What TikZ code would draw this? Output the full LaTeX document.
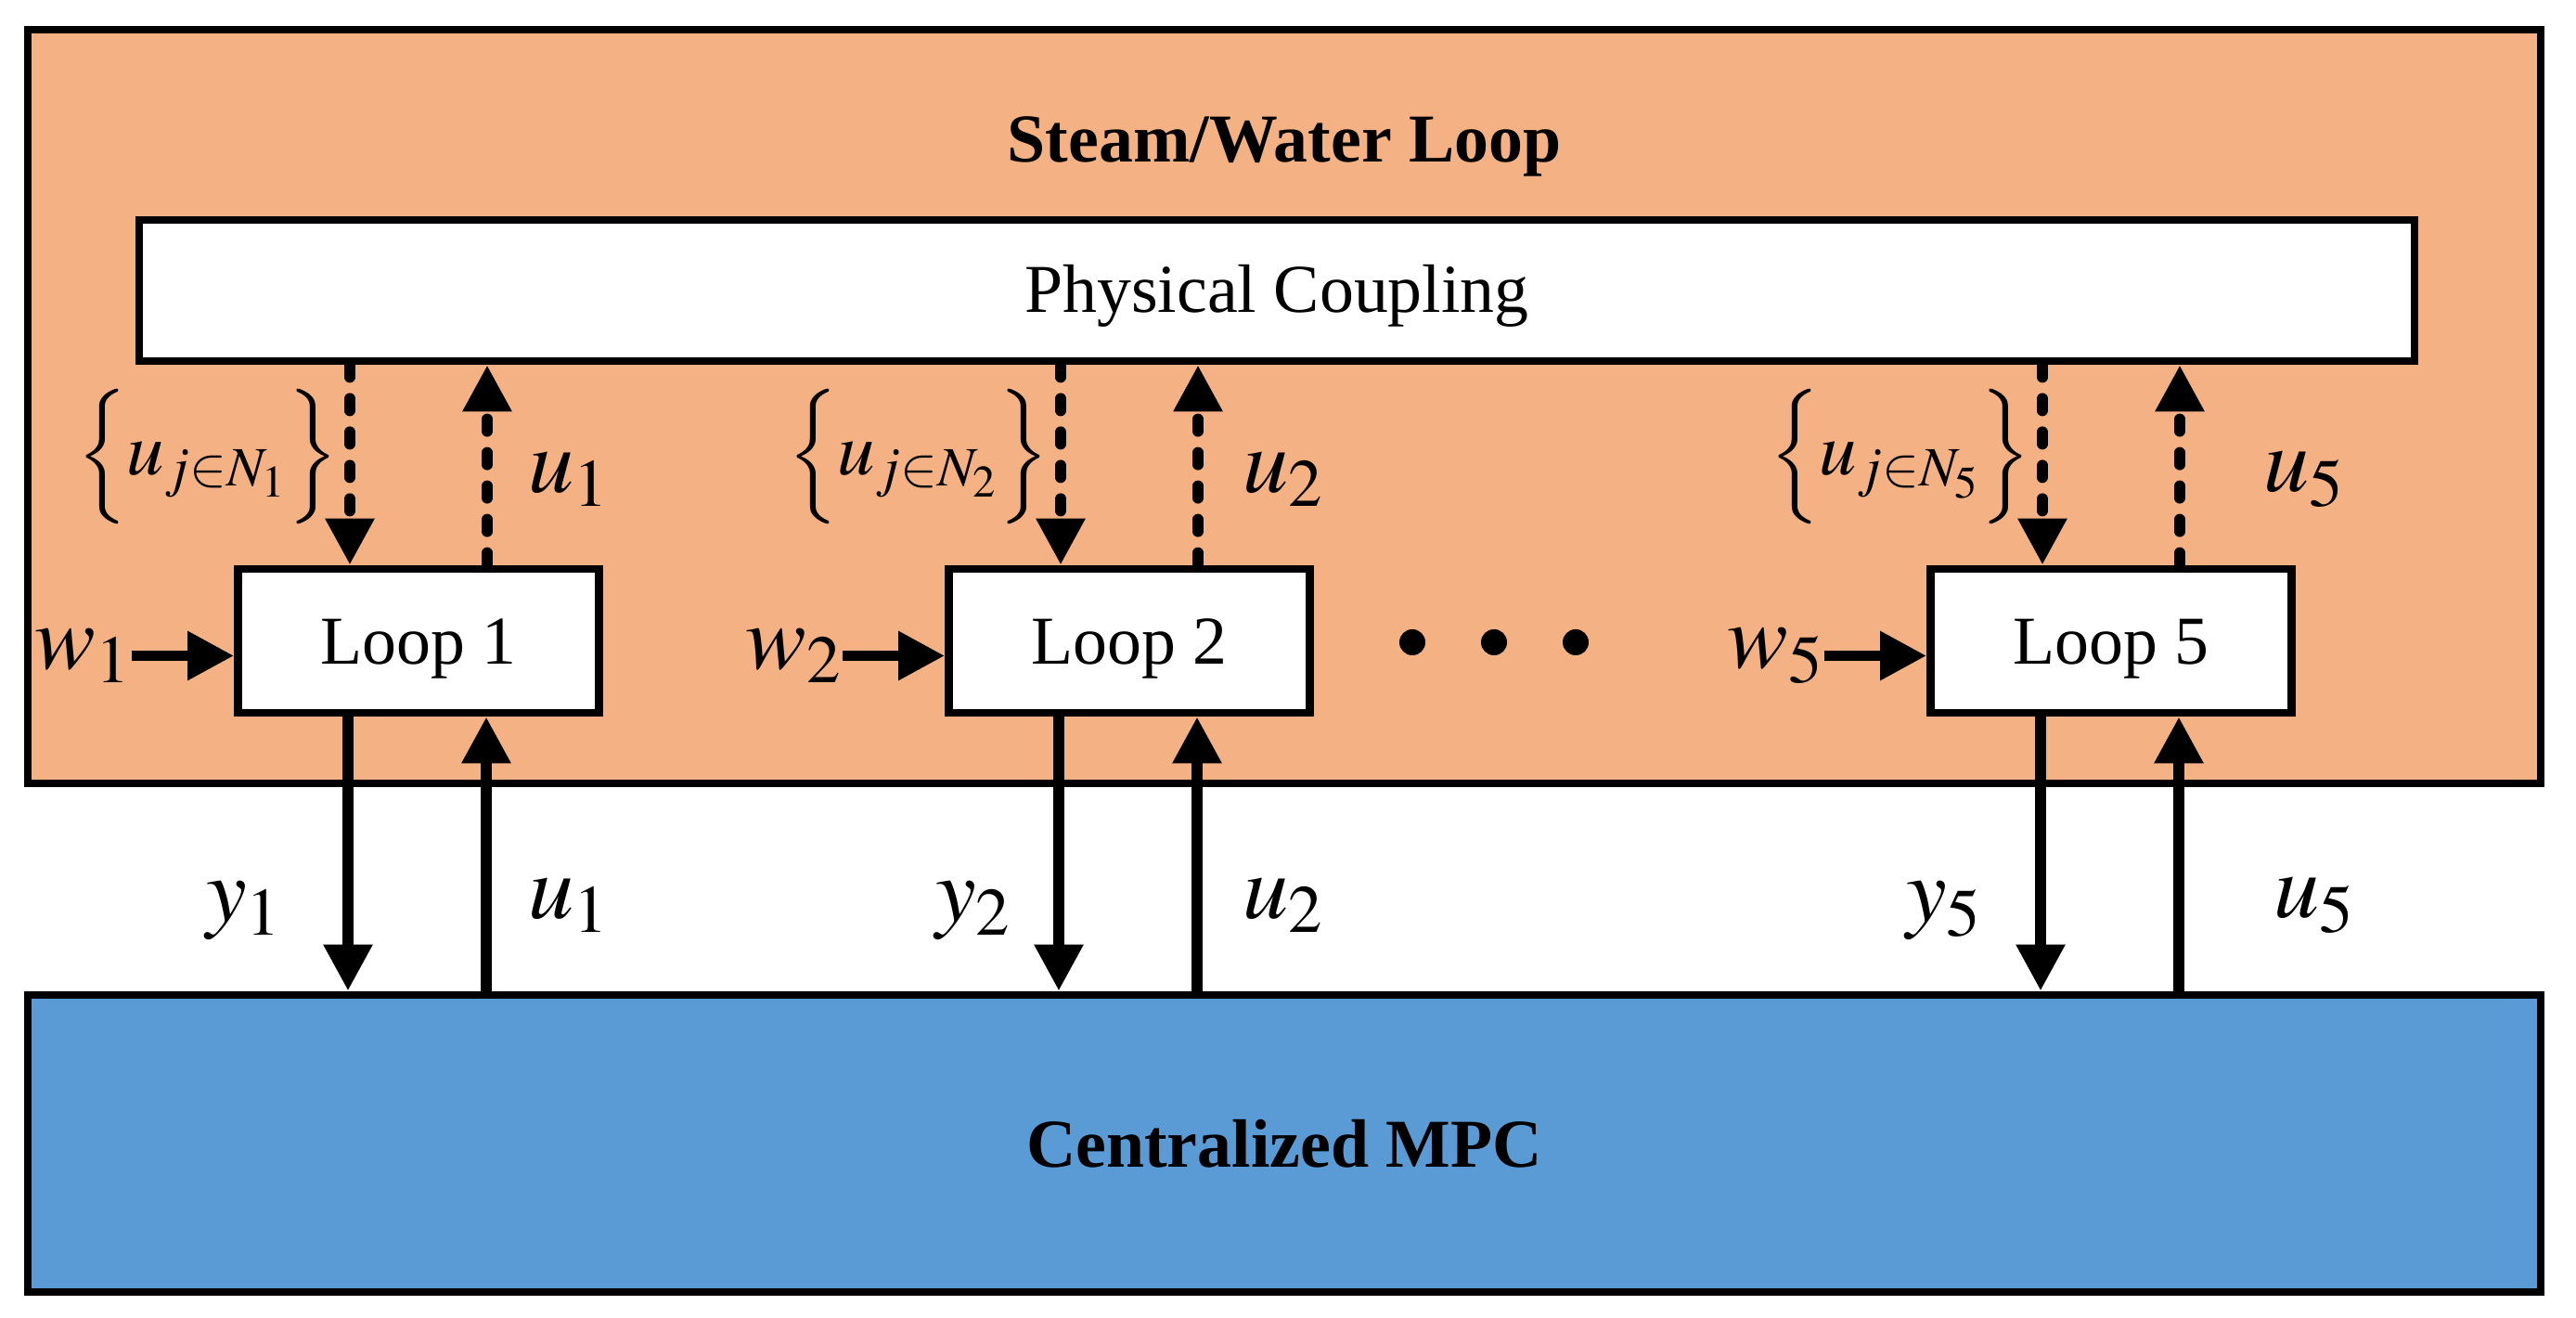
\documentclass[tikz,border=0pt]{standalone}
\usepackage{mathptmx}
\usepackage{fontspec}
\setmainfont{Liberation Serif}
\usepackage{tikz}
\usetikzlibrary{arrows.meta}

\definecolor{loopfill}{RGB}{244,177,131}
\definecolor{mpcfill}{RGB}{91,155,213}

\begin{document}
\begin{tikzpicture}[>={Triangle[length=0.5cm,width=0.5cm]},
	box/.style={draw, line width=2.5pt, font=\fontsize{21}{25}\selectfont},
	loopbox/.style={box, fill=white, minimum width=3.89cm, minimum height=1.55cm,
		text height=0.51cm, text depth=0cm},
	sig/.style={->, line width=3.4pt},
	dsig/.style={sig, line cap=round, dash pattern=on 0.13cm off 0.23cm},
	lab/.style={font=\fontsize{28}{32}\selectfont, inner sep=0pt},
	blab/.style={font=\fontsize{23}{27}\selectfont, inner sep=0pt}]
\useasboundingbox (0,0) rectangle (27.76,14.20);

\node[box, fill=loopfill, minimum width=27.08cm, minimum height=8.12cm] (SW) at (13.84,9.82) {};
\node[font=\fontsize{21}{25}\selectfont\bfseries, anchor=base] (title) at (13.84,12.45) {Steam/Water Loop};
\node[box, fill=white, minimum width=24.52cm, minimum height=1.52cm,
	text height=0.48cm, text depth=0cm] (PC) at (13.76,11.07) {Physical Coupling};
\node[box, fill=mpcfill, minimum width=27.08cm, minimum height=3.20cm,
	font=\fontsize{21}{25}\selectfont\bfseries] (MPC) at (13.84,1.88) {Centralized MPC};

\foreach \n/\x/\ux/\yx/\vx in {1/4.51/6.13/2.63/6.13,
		2/12.17/13.83/10.49/13.83, 5/22.75/24.83/20.95/24.94}{
  \node[loopbox] (L\n) at (\x,7.295) {Loop \n};
  \coordinate (dn\n) at ([xshift=-0.74cm]L\n.north);
  \coordinate (un\n) at ([xshift=0.74cm]L\n.north);
  \coordinate (ds\n) at ([xshift=-0.76cm]L\n.south);
  \coordinate (us\n) at ([xshift=0.73cm]L\n.south);

  \draw[dsig] (dn\n |- PC.south) -- (dn\n);
  \draw[dsig] (un\n) -- (un\n |- PC.south);
  \draw[sig] (ds\n) -- (ds\n |- MPC.north);
  \draw[sig] (us\n |- MPC.north) -- (us\n);

  \node[lab, anchor=east] (w\n) at ([xshift=-1.10cm,yshift=-0.16cm]L\n.west) {$w_\n$};
  \draw[sig] (w\n.east) -- (w\n.east -| L\n.west);

  \node[blab, anchor=east] (uc\n) at ([xshift=-0.12cm,yshift=1.17cm]dn\n) {$\Bigl\{u_{j\in N_\n}\Bigr\}$};
  \node[lab] (ut\n) at (\ux,9.03) {$u_\n$};
  \node[lab] (y\n) at (\yx,4.39) {$y_\n$};
  \node[lab] (ub\n) at (\vx,4.44) {$u_\n$};
}

\foreach \d in {15.22,16.10,16.98}
  \fill (\d,7.28) circle (0.14);

\end{tikzpicture}
\end{document}
